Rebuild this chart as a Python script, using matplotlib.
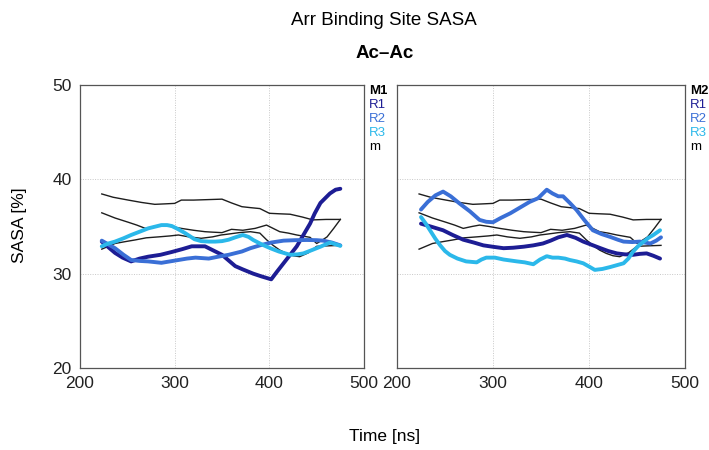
import matplotlib
matplotlib.use("Agg")
import matplotlib.pyplot as plt

plt.rcParams['font.family'] = ['Liberation Sans', 'DejaVu Sans']

# ---- data: SASA [%] vs time [ns] ----
# M1 replicas
m1_r1_t = [223, 230, 237, 245, 254, 263, 272, 285, 297, 308, 318, 332, 340, 350, 357, 364, 372, 383, 392, 402,
           408, 415, 422, 429, 436, 443, 448, 454, 464, 470, 475]
m1_r1_v = [33.4, 32.8, 32.2, 31.7, 31.3, 31.6, 31.8, 32.0, 32.3, 32.6, 32.9, 32.9, 32.5, 32.0, 31.4, 30.8, 30.45,
           30.0, 29.7, 29.4, 30.2, 31.1, 32.0, 32.9, 34.1, 35.3, 36.4, 37.5, 38.5, 38.9, 39.0]

m1_r2_t = [223, 237, 246, 254, 263, 272, 286, 295, 304, 313, 322, 336, 346, 357, 365, 371, 380, 390, 402, 415,
           427, 440, 450, 457, 466, 475]
m1_r2_v = [33.5, 32.7, 32.0, 31.45, 31.35, 31.3, 31.15, 31.3, 31.45, 31.6, 31.7, 31.6, 31.8, 32.0, 32.2, 32.35,
           32.7, 33.0, 33.3, 33.5, 33.55, 33.57, 33.55, 33.5, 33.3, 33.0]

m1_r3_t = [223, 230, 237, 246, 254, 263, 272, 280, 286, 292, 297, 304, 311, 321, 328, 336, 343, 350, 357, 364,
           372, 378, 383, 392, 401, 410, 422, 430, 436, 445, 454, 464, 475]
m1_r3_v = [32.9, 33.2, 33.4, 33.75, 34.1, 34.45, 34.8, 35.0, 35.15, 35.15, 35.05, 34.7, 34.3, 33.65, 33.45, 33.4,
           33.4, 33.45, 33.6, 33.85, 34.1, 33.9, 33.57, 33.1, 32.7, 32.35, 32.0, 32.05, 32.15, 32.5, 32.86, 33.3,
           32.95]

# M2 replicas
m2_r1_t = [225, 235, 248, 258, 269, 280, 290, 300, 311, 321, 332, 342, 352, 360, 368, 377, 386, 394, 403, 412,
           420, 429, 437, 446, 453, 460, 467, 474]
m2_r1_v = [35.3, 35.0, 34.6, 34.1, 33.6, 33.3, 33.0, 32.85, 32.7, 32.75, 32.86, 33.0, 33.2, 33.5, 33.85, 34.1,
           33.8, 33.4, 33.05, 32.7, 32.4, 32.15, 32.05, 32.0, 32.1, 32.15, 31.9, 31.6]

m2_r2_t = [225, 232, 240, 248, 256, 265, 276, 286, 293, 300, 308, 318, 328, 338, 347, 356, 362, 368, 373, 380,
           387, 395, 404, 413, 422, 430, 436, 445, 453, 458, 464, 470, 475]
m2_r2_v = [36.8, 37.6, 38.3, 38.7, 38.2, 37.45, 36.6, 35.7, 35.5, 35.45, 35.9, 36.4, 37.0, 37.6, 38.0, 38.9,
           38.5, 38.2, 38.2, 37.5, 36.75, 35.7, 34.6, 34.2, 33.9, 33.6, 33.4, 33.35, 33.4, 33.3, 33.2, 33.5, 33.85]

m2_r3_t = [225, 230, 235, 240, 245, 250, 255, 263, 272, 283, 288, 293, 302, 311, 318, 325, 333, 342, 349, 356,
           362, 368, 375, 380, 387, 394, 401, 406, 414, 422, 429, 436, 441, 446, 451, 457, 462, 467, 474]
m2_r3_v = [36.0, 35.3, 34.5, 33.7, 33.0, 32.4, 32.0, 31.6, 31.3, 31.2, 31.5, 31.7, 31.7, 31.5, 31.4, 31.3,
           31.2, 31.0, 31.5, 31.85, 31.7, 31.7, 31.6, 31.45, 31.3, 31.1, 30.7, 30.4, 30.5, 30.7, 30.9, 31.1,
           31.6, 32.35, 32.9, 33.4, 33.8, 34.1, 34.6]

# reference curves (m), shown in both panels
m_a_t = [223, 235, 251, 265, 279, 290, 300, 307, 320, 335, 350, 360, 371, 380, 390, 400, 410, 422, 435, 446,
         460, 475]
m_a_v = [38.45, 38.1, 37.8, 37.55, 37.35, 37.4, 37.45, 37.8, 37.8, 37.85, 37.9, 37.5, 37.1, 37.0, 36.9, 36.4,
         36.35, 36.3, 36.0, 35.7, 35.75, 35.75]

m_b_t = [223, 237, 251, 260, 269, 278, 286, 296, 307, 320, 332, 340, 350, 360, 372, 385, 397, 411, 420, 429,
         443, 450, 455, 461, 468, 475]
m_b_v = [36.45, 35.9, 35.45, 35.15, 34.8, 35.0, 35.15, 35.0, 34.8, 34.6, 34.45, 34.4, 34.35, 34.7, 34.6, 34.8,
         35.15, 34.45, 34.3, 34.1, 33.85, 33.2, 33.5, 33.9, 34.8, 35.75]

m_c_t = [223, 237, 248, 258, 270, 283, 295, 304, 315, 328, 340, 349, 357, 368, 380, 390, 397, 404, 411, 418,
         425, 432, 441, 450, 462, 475]
m_c_v = [32.6, 33.2, 33.4, 33.57, 33.8, 33.9, 34.0, 34.1, 33.9, 33.75, 33.9, 34.1, 34.2, 34.35, 34.45, 34.3,
         33.6, 33.0, 32.5, 32.15, 31.9, 31.8, 32.2, 32.9, 32.95, 33.0]

x_ticks = [200, 300, 400, 500]
y_ticks = [20, 30, 40, 50]
panel_names = ["M1", "M2"]
series_names = ["R1", "R2", "R3"]

# ---- styling ----
colors = {"R1": "#1d1d94", "R2": "#3a6fd6", "R3": "#2bb8ea", "m": "#1e1e1e"}

fig = plt.figure(figsize=(7.09, 4.5), dpi=100)
ax_l = fig.add_axes([80 / 709, 82 / 450, 284 / 709, 283 / 450])
ax_r = fig.add_axes([397 / 709, 82 / 450, 288 / 709, 283 / 450])

panels = [
    (ax_l, [(m1_r1_t, m1_r1_v), (m1_r2_t, m1_r2_v), (m1_r3_t, m1_r3_v)]),
    (ax_r, [(m2_r1_t, m2_r1_v), (m2_r2_t, m2_r2_v), (m2_r3_t, m2_r3_v)]),
]
ref_lines = [(m_a_t, m_a_v), (m_b_t, m_b_v), (m_c_t, m_c_v)]

for i, (ax, reps) in enumerate(panels):
    for t, v in ref_lines:
        ax.plot(t, v, color=colors["m"], lw=1.0, zorder=2)
    for name, (t, v) in zip(series_names, reps):
        ax.plot(t, v, color=colors[name], lw=2.8, solid_capstyle="round",
                solid_joinstyle="round", zorder=3)

    ax.set_xlim(200, 500)
    ax.set_ylim(20, 50)
    ax.set_xticks(x_ticks)
    ax.set_yticks(y_ticks)
    ax.grid(True, color="#c8c8c8", linestyle=(0, (1, 1.5)), lw=0.7)
    ax.set_axisbelow(True)
    ax.tick_params(length=0, labelsize=12.5, pad=6, colors="#222222")
    for sp in ax.spines.values():
        sp.set_color("#555555")
        sp.set_linewidth(0.9)
    if i == 1:
        ax.tick_params(labelleft=False)

    # legend column at the right of each panel
    labels = [(panel_names[i], "black", "bold")] + \
             [(n, colors[n], "normal") for n in series_names] + [("m", "black", "normal")]
    for k, (txt, col, wt) in enumerate(labels):
        ax.text(1.017, 0.978 - k * 0.0495, txt, transform=ax.transAxes, color=col,
                fontsize=9.5, fontweight=wt, ha="left", va="center")

fig.text(0.542, 0.955, "Arr Binding Site SASA", ha="center", va="center", fontsize=13.5)
fig.text(0.542, 0.882, "Ac\u2013Ac", ha="center", va="center", fontsize=13.5, fontweight="bold")
fig.text(0.542, 0.03, "Time [ns]", ha="center", va="center", fontsize=12.5)
fig.text(0.028, 0.5, "SASA [%]", ha="center", va="center", rotation=90, fontsize=12.5)

fig.savefig("out.png", dpi=100)
